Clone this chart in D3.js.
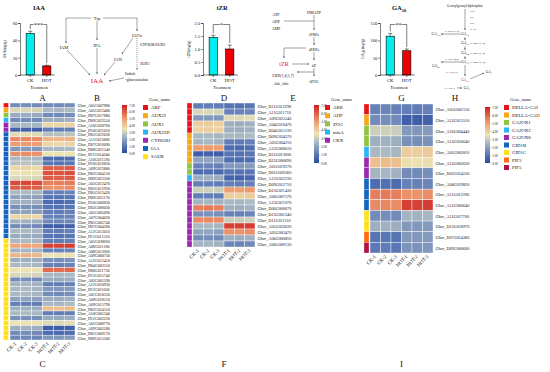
<!DOCTYPE html>
<html><head><meta charset="utf-8">
<script src="https://cdn.jsdelivr.net/npm/d3@7"></script>
<style>
body{margin:0;background:#fff}
svg{display:block}
text{font-family:"Liberation Serif","Times New Roman",serif;fill:#111}
</style></head>
<body><svg id="c" width="550" height="372"></svg>
<script>
// ---------------- DATA ----------------
const barCats = ["CK","HOT"];
const iaaVals = [48,10.5], iaaErr = [2.5,0.8];
const tzrVals = [1.45,1.0], tzrErr = [0.08,0.15];
const ga20Vals = [112,70], ga20Err = [8,5];

const heatCols = ["CK-1","CK-2","CK-3","HOT-1","HOT-2","HOT-3"];
const cbTicks = [0,1,2,3,4,5,6,7];

const auxNames = ["ARF","AUX22","AUX1","AUX22D","CYP83B1","IAA","SAUR"];
const auxColors = ["#e8141a","#f7a81b","#8dc63f","#29b6f6","#9c27b0","#1565c0","#ffe01a"];
const auxGenes = ["A05G007980","A05G012480","D07G017880","D09G023550","A10G020760","D10G021010","D05G022030","A11G013880","D07G016090","D08G021540","D11G014640","A10G011590","D10G016830","A09G023880","D02G004150","D09G023560","A05G012470","D05G012920","D05G013420","D06G021170","D10G006830","D03G006030","A05G005090","A07G004020","D05G005740","D07G004280","A12G013010","D11G011510","A05G038660","A08G011180","A08G013660","A09G000730","A12G012410","D04G003510","D08G011730","D12G025740","A03G001590","A12G010930","D12G011030","A01G010350","A09G018510","A09G015790","D02G024510","A10G005340","D12G003220","A01G008770","A09G003180","D01G009170","D09G015500"];
const auxGroup = ["ARF","AUX22","AUX1","AUX22D","CYP83B1","CYP83B1"].concat(Array(22).fill("IAA"), Array(21).fill("SAUR"));
const auxCK  = [1.5,3.2,2.2,1.5,2.5,0.5,3.3,5.3,5.0,1.8,5.2,2.5,2.7,3.8,3.5,3.2,6.3,6.0,2.5,2.0,2.3,1.6,2.0,3.8,2.3,1.5,2.5,2.2,2.5,4.8,2.4,4.5,2.3,2.5,3.5,3.2,1.5,2.4,2.5,2.5,2.0,1.2,2.3,2.5,1.6,3.5,2.3,1.5,1.4];
const auxHOT = [1.5,2.5,1.5,2.3,3.8,1.2,2.7,4.5,3.8,2.5,3.5,0.8,1.0,6.0,6.2,6.0,5.5,5.2,1.3,1.0,0.8,1.0,1.2,1.3,1.4,0.5,1.2,1.0,1.2,6.5,1.3,3.5,1.6,1.3,5.8,2.5,2.2,1.2,1.8,1.5,2.3,2.5,4.3,1.2,2.2,3.3,0.5,0.8,1.8];

const ckNames = ["ARR","AHP","ZOG","miaA","CKX"];
const ckColors = ["#e8141a","#f7a81b","#8dc63f","#29b6f6","#9c27b0"];
const ckGenes = ["D11G012290","A11G011710","A09G025240","A04G010470","D04G015130","D09G024570","A05G004210","A12G000610","D11G013000","D12G000690","A01G019270","D01G020360","A12G022230","D09G012710","D13G021430","A06G007570","A13G021070","D06G000670","D13G001240","D11G011110","A05G033630","A05G003470","A06G000850","A06G009130"];
const ckGroup = Array(5).fill("ARR").concat(Array(5).fill("AHP"), ["ZOG","ZOG","miaA"], Array(11).fill("CKX"));
const ckCK  = [1.2,3.2,1.8,4.0,3.9,2.5,2.4,5.0,0.5,2.0,1.3,0.8,2.3,1.2,3.0,1.2,2.4,5.5,1.6,5.3,2.5,2.0,1.5,2.4];
const ckHOT = [1.0,1.3,3.3,2.3,2.3,2.5,1.2,0.8,1.0,0.8,1.8,1.0,0.6,1.2,5.0,4.0,2.5,2.3,1.3,3.0,6.5,5.2,2.3,1.4];

const gaNames = ["DELLA-GAI","DELLA-GAI1","GA2OX1","GA2OX2","GA2OX8","GID1B","GID1C","PIF3","PIF5"];
const gaColors = ["#e8141a","#f7a81b","#8dc63f","#29b6f6","#9c27b0","#1565c0","#ffe01a","#ff6d10","#b3123f"];
const gaGenes = ["A05G002150","A12G013510","A10G004440","A13G016640","A01G002810","A13G002630","D02G014530","A08G019820","A11G012390","A12G000640","A11G027760","D13G018970","D07G014380","D09G000600"];
const gaGroup = ["DELLA-GAI","DELLA-GAI1","GA2OX1","GA2OX1","GA2OX2","GA2OX8","GA2OX8","GID1B","GID1B","GID1B","GID1C","GID1C","PIF3","PIF5"];
const gaCK  = [1.3,1.5,3.0,2.3,2.5,4.3,2.4,0.8,5.5,5.3,1.5,2.3,1.0,1.1];
const gaHOT = [1.2,0.5,1.8,1.6,4.0,3.6,1.5,1.3,5.2,6.5,2.4,1.8,1.8,1.7];

// ---------------- DRAW ----------------
const svg = d3.select("#c");
const defs = svg.append("defs");
defs.append("marker").attr("id","arr").attr("viewBox","0 0 10 10").attr("refX",9).attr("refY",5)
  .attr("markerWidth",4).attr("markerHeight",4).attr("orient","auto-start-reverse")
  .append("path").attr("d","M0,1 L10,5 L0,9 z").attr("fill","#333");

const color = d3.scaleLinear().domain([0,1,2.5,3.5,5,7])
  .range(["#2b4a9c","#5775b5","#a9b8c2","#ece4b3","#ee9d70","#cc1f20"]);

function rowVals(ck, hot){
  return ck.map((v,i)=>[v, v+0.05, v-0.03, hot[i], hot[i]-0.04, hot[i]+0.05]);
}

function heatmap(o){
  const g = svg.append("g");
  const xs = d3.scaleBand().domain(heatCols).range([o.x0,o.x1]);
  const ys = d3.scaleBand().domain(o.genes).range([o.y0,o.y1]);
  const grp = d3.scaleOrdinal().domain(o.names).range(o.colors);
  const vals = rowVals(o.ck, o.hot);
  o.genes.forEach((gname,i)=>{
    heatCols.forEach((c,j)=>{
      g.append("rect").attr("x",xs(c)).attr("y",ys(gname)).attr("width",xs.bandwidth()).attr("height",ys.bandwidth())
        .attr("fill",color(vals[i][j])).attr("stroke","#fff").attr("stroke-width",0.4);
    });
    g.append("rect").attr("x",o.stripX).attr("y",ys(gname)).attr("width",5).attr("height",ys.bandwidth())
      .attr("fill",grp(o.group[i])).attr("stroke","#fff").attr("stroke-width",0.3);
    const t = g.append("text").attr("x",o.x1+2.5).attr("y",ys(gname)+ys.bandwidth()/2)
      .attr("dominant-baseline","central").attr("font-size",o.fs);
    t.append("tspan").attr("font-style","italic").text("Gbar");
    t.append("tspan").text("_"+gname);
  });
  heatCols.forEach(c=>{
    const cx = xs(c)+xs.bandwidth()/2, cy = o.y1+3;
    g.append("text").attr("transform",`translate(${cx},${cy}) rotate(-45)`).attr("text-anchor","end")
      .attr("dominant-baseline","central").attr("font-size",5).text(c);
  });
  const mid = (o.x0+o.x1)/2;
  g.append("text").attr("x",mid).attr("y",101).attr("text-anchor","middle").attr("font-size",9).text(o.letters[0]);
  g.append("text").attr("x",o.letterX2).attr("y",101).attr("text-anchor","middle").attr("font-size",9).text(o.letters[1]);
  g.append("text").attr("x",mid).attr("y",367).attr("text-anchor","middle").attr("font-size",9).text(o.letters[2]);
  // colorbar
  const gid = "grad"+o.letters[0];
  const lg = defs.append("linearGradient").attr("id",gid).attr("x1",0).attr("x2",0).attr("y1",1).attr("y2",0);
  d3.range(0,7.01,0.5).forEach(v=>lg.append("stop").attr("offset",v/7).attr("stop-color",color(v)));
  g.append("rect").attr("x",o.cbX).attr("y",o.cbY0).attr("width",5).attr("height",o.cbY1-o.cbY0).attr("fill",`url(#${gid})`);
  const cs = d3.scaleLinear().domain([0,7]).range([o.cbY1,o.cbY0]);
  const ax = g.append("g").attr("transform",`translate(${o.cbX+5},0)`)
    .call(d3.axisRight(cs).tickValues(cbTicks).tickSize(1.2).tickPadding(1).tickFormat(d3.format(".2f")));
  ax.select(".domain").remove();
  ax.selectAll("text").attr("font-size",3.3).attr("font-family","Liberation Serif");
  ax.selectAll("line").attr("stroke","#555").attr("stroke-width",0.3);
  // legend
  g.append("text").attr("x",o.lgX+6).attr("y",101).attr("font-size",4.5).text("Gene_name");
  o.names.forEach((n,i)=>{
    const y = 105 + i*o.lgStep;
    g.append("rect").attr("x",o.lgX).attr("y",y).attr("width",5).attr("height",5).attr("fill",o.colors[i]);
    g.append("text").attr("x",o.lgX+8).attr("y",y+2.7).attr("dominant-baseline","central").attr("font-size",4.8).text(n);
  });
}

heatmap({genes:auxGenes,group:auxGroup,ck:auxCK,hot:auxHOT,names:auxNames,colors:auxColors,
  x0:10,x1:75,y0:103,y1:340,stripX:3.5,fs:4,letters:["A","B","C"],letterX2:97,
  cbX:122,cbY0:105,cbY1:153,lgX:143,lgStep:8.2});
heatmap({genes:ckGenes,group:ckGroup,ck:ckCK,hot:ckHOT,names:ckNames,colors:ckColors,
  x0:193,x1:255,y0:103,y1:247,stripX:187,fs:4.2,letters:["D","E","F"],letterX2:293,
  cbX:314,cbY0:105,cbY1:163,lgX:325,lgStep:8.2});
heatmap({genes:gaGenes,group:gaGroup,ck:gaCK,hot:gaHOT,names:gaNames,colors:gaColors,
  x0:370,x1:433,y0:104,y1:253,stripX:364,fs:4.2,letters:["G","H","I"],letterX2:455,
  cbX:485,cbY0:107,cbY1:163,lgX:504,lgStep:7.5});

// ---------------- BAR CHARTS ----------------
function barChart(o){
  const g = svg.append("g");
  const x = d3.scaleBand().domain(barCats).range([o.ax+2,o.ax+35]).paddingInner(0.5).paddingOuter(0.25);
  const y = d3.scaleLinear().domain(o.domain).range([75,23]);
  const bc = ["#00eeee","#ee0000"];
  barCats.forEach((c,i)=>{
    g.append("rect").attr("x",x(c)).attr("y",y(o.vals[i])).attr("width",x.bandwidth()).attr("height",75-y(o.vals[i]))
      .attr("fill",bc[i]).attr("stroke","#000").attr("stroke-width",0.6);
    const cx = x(c)+x.bandwidth()/2;
    g.append("line").attr("x1",cx).attr("x2",cx).attr("y1",y(o.vals[i])).attr("y2",y(o.vals[i]+o.errs[i])).attr("stroke","#000").attr("stroke-width",0.5);
    g.append("line").attr("x1",cx-2).attr("x2",cx+2).attr("y1",y(o.vals[i]+o.errs[i])).attr("y2",y(o.vals[i]+o.errs[i])).attr("stroke","#000").attr("stroke-width",0.5);
    g.append("line").attr("x1",cx).attr("x2",cx).attr("y1",75).attr("y2",77).attr("stroke","#000").attr("stroke-width",0.5);
    g.append("text").attr("x",cx).attr("y",82).attr("text-anchor","middle").attr("font-size",4.8).text(c);
  });
  const ya = g.append("g").attr("transform",`translate(${o.ax},0)`)
    .call(d3.axisLeft(y).tickValues(o.ticks).tickSize(1.8).tickPadding(1).tickFormat(o.fmt));
  ya.selectAll("text").attr("font-size",4.5).attr("font-family","Liberation Serif");
  ya.selectAll("line,path").attr("stroke","#000").attr("stroke-width",0.5);
  g.append("line").attr("x1",o.ax).attr("x2",o.ax+35).attr("y1",75).attr("y2",75).attr("stroke","#000").attr("stroke-width",0.5);
  g.append("text").attr("x",o.ax+19).attr("y",89).attr("text-anchor","middle").attr("font-size",4.3).text("Treatment");
  const t = g.append("text").attr("x",o.ax+19).attr("y",10).attr("text-anchor","middle").attr("font-size",6.5).attr("font-weight","bold").text(o.title);
  if(o.titleSub) t.append("tspan").attr("font-size",4.5).attr("dy",1.8).text(o.titleSub);
  const yl = g.append("text").attr("transform",`translate(${o.ylx},49) rotate(-90)`).attr("text-anchor","middle").attr("font-size",4.2).text(o.ylab);
  if(o.ylabSub){ yl.append("tspan").attr("font-size",3).attr("dy",1).text(o.ylabSub); yl.append("tspan").attr("dy",-1).text(" (ng/g)"); }
  const c0 = x("CK")+x.bandwidth()/2, c1 = x("HOT")+x.bandwidth()/2, by = 24.5;
  g.append("path").attr("d",`M${c0},${y(o.vals[0]+o.errs[0])-2} V${by} H${c1} V${y(o.vals[1]+o.errs[1])-2}`)
    .attr("fill","none").attr("stroke","#000").attr("stroke-width",0.5);
  g.append("rect").attr("x",(c0+c1)/2-o.sig.length*1.6).attr("y",by-2).attr("width",o.sig.length*3.2).attr("height",3).attr("fill","#fff");
  g.append("text").attr("x",(c0+c1)/2).attr("y",by+2.2).attr("text-anchor","middle").attr("font-size",6).text(o.sig);
}
barChart({ax:20,vals:iaaVals,errs:iaaErr,domain:[0,60],ticks:[0,20,40,60],fmt:d3.format("d"),title:"IAA",ylab:"IAA(ng/g)",ylx:6,sig:"***"});
barChart({ax:203,vals:tzrVals,errs:tzrErr,domain:[0,2],ticks:[0,0.5,1,1.5,2],fmt:d3.format(".1f"),title:"tZR",ylab:"tZR(ng/g)",ylx:190,sig:"*"});
barChart({ax:380,vals:ga20Vals,errs:ga20Err,domain:[0,150],ticks:[0,50,100,150],fmt:d3.format("d"),title:"GA",titleSub:"20",ylab:"GA",ylabSub:"20",ylx:364,sig:"**"});

// ---------------- PATHWAYS ----------------
const P = svg.append("g");
function txt(x,y,s,fs,opt={}){
  const t = P.append("text").attr("x",x).attr("y",y).attr("text-anchor",opt.anchor||"middle")
    .attr("dominant-baseline","central").attr("font-size",fs).text(s);
  if(opt.italic) t.attr("font-style","italic");
  if(opt.fill) t.style("fill",opt.fill);
  return t;
}
function path(d,arrow=true,dash=false){
  const p = P.append("path").attr("d",d).attr("fill","none").attr("stroke","#333").attr("stroke-width",0.45);
  if(arrow) p.attr("marker-end","url(#arr)");
  if(dash) p.attr("stroke-dasharray","1.2,0.8");
}
// auxin
txt(97,18,"Trp",4.5);
path("M91,18 H66 V43"); path("M103,18 H137 V31");
path("M97,21 V40"); txt(97,45,"IPA",4.5); path("M97,48 V74");
txt(64,47,"IAM",4.5); path("M67,50 L90,75");
txt(137,35,"IAOx",4.5); path("M133,38 L122,54"); txt(118,59,"IAN",4.5); path("M115,62 L104,75");
path("M137,38 V70",true,true);
txt(140,44,"CYP83B/SUR2",4.2,{anchor:"start",italic:true});
txt(140,63,"SUR1",4.2,{anchor:"start",italic:true});
txt(125,73.5,"Indole",4.2,{anchor:"start"}); txt(125,79.5,"-glucosinolate",4.2,{anchor:"start"});
path("M124,78 L109,81");
txt(97,81,"IAA",7,{fill:"#e8141a"});
// cytokinin
txt(276,14,"ATP",4); txt(276,21,"ADP",4); txt(276,28,"AMP",4);
txt(314,12,"DMAPP",4);
path("M284,21 H314",false); path("M314,15 V30"); txt(314,34,"iPRPs",4);
path("M314,37 V45"); txt(314,49,"tZRPs",4);
path("M306,48 H284 V58"); path("M314,52 V60"); txt(314,65,"tZ",4.5);
txt(284,64,"tZR",6,{fill:"#e8141a"});
path("M292,64 H309");
path("M314,68 V76"); txt(314,81,"tZOG",4);
path("M314,72 H297");
txt(283,75,"CKX(1,4,5,7)",4,{italic:true}); txt(281,83,"Ade,Ado",4);
// gibberellin
txt(465,6,"Geranylgeranyl diphosphate",3.2);
path("M465,9 V30");
txt(470,11,"CPS",2.8,{anchor:"start"}); txt(470,17,"KS",2.8,{anchor:"start"});
txt(470,23,"KO",2.8,{anchor:"start"}); txt(470,29,"KAO",2.8,{anchor:"start"});
const ga = (x,y,sub,fill)=>{ const t=txt(x,y,"GA",3.6,{fill}); t.append("tspan").attr("font-size",2.5).attr("dy",1).text(sub); };
ga(465,34,"12"); path("M461,34 H441"); txt(452,31,"GA2OX(1,8)",2.6); ga(436,34,"110");
path("M465,37 V40"); ga(465,43,"53"); txt(470,43,"GA20OX(1,4)",2.6,{anchor:"start"});
path("M465,46 V50"); ga(465,53,"44"); txt(470,53,"GA20OX(1,4)",2.6,{anchor:"start"});
path("M465,56 V59"); ga(465,62,"19"); txt(470,62,"GA20OX(1,4)",2.6,{anchor:"start"});
path("M461,62 H441"); txt(452,59,"GA2OX(2,8)",2.6); ga(436,66,"29");
txt(452,72,"GA3OX(1)",2.6);
path("M465,65 V76"); ga(465,80,"20","#e8141a");
path("M470,79 L484,73"); ga(489,72,"1");
txt(450,88,"GA3OX1",2.6); path("M457,88 H462"); ga(467,88,"1");
</script></body></html>
